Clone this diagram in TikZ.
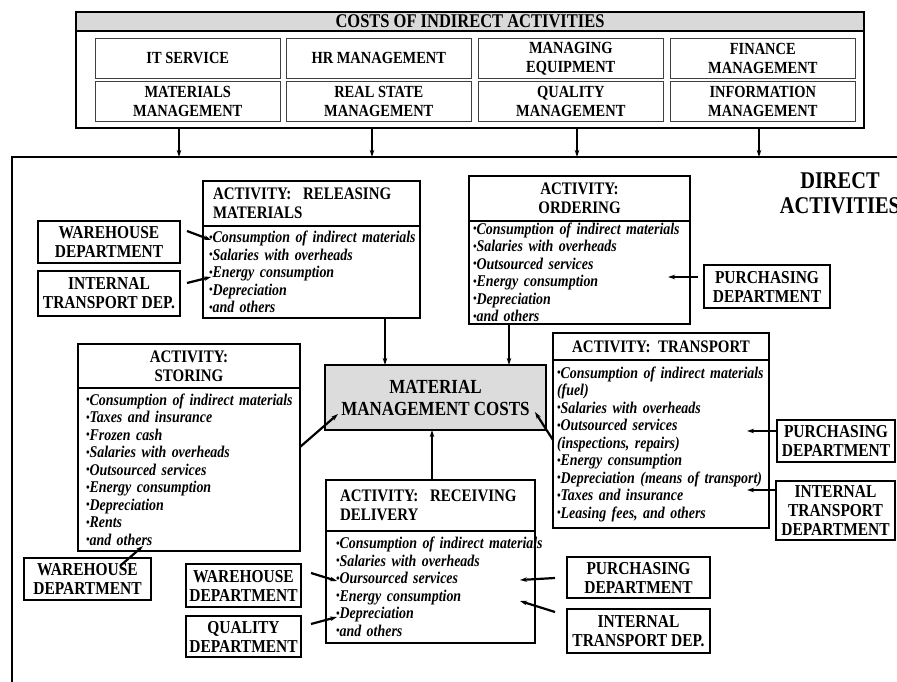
\documentclass[tikz,border=0pt]{standalone}
\usepackage{fontspec}
\setmainfont{Liberation Serif}[FakeStretch=0.85]
\usetikzlibrary{arrows.meta}
\usetikzlibrary{positioning}

\definecolor{hdgray}{RGB}{217,217,217}
\definecolor{mmcgray}{RGB}{220,220,220}
\newcommand\bul{\raisebox{.2ex}{\fontsize{12}{12}\selectfont\textbullet}}
\newcommand\cst[1]{\mbox{\bul#1}}

\begin{document}
\begin{tikzpicture}
[x=1pt,y=-1pt,>={Stealth[length=7pt,width=4.5pt]},%
  frm/.style={draw,line width=2pt,inner sep=0pt,outer sep=0pt,anchor=north west},
  ttl/.style={frm,font=\bfseries\fontsize{17.6}{19}\selectfont,align=center},
  lst/.style={frm,font=\bfseries\itshape\fontsize{16.4}{17.5}\selectfont,align=left},
  dept/.style={frm,font=\bfseries\fontsize{18.2}{19}\selectfont,align=center},
  cell/.style={draw=black!75,line width=.6pt,inner sep=0pt,anchor=north west,
    minimum width=185pt,minimum height=40pt,
    font=\bfseries\fontsize{17}{19}\selectfont,align=center},
  arr/.style={->,line width=2.2pt}]
\useasboundingbox (0,0) rectangle (897,682);
%% costs of indirect activities
\node[ttl,fill=hdgray,minimum width=788pt,minimum height=19pt,
  font=\bfseries\fontsize{19.4}{19}\selectfont] (indh) at (76,12) {COSTS OF INDIRECT ACTIVITIES};
\node[frm,minimum width=788pt,minimum height=97pt,below=0pt of indh] (indb) {};
\node[cell] (it) at (95,38) {IT SERVICE};
\node[cell] (hr) at (286,38) {HR MANAGEMENT};
\node[cell] (eq) at (478,38) {MANAGING\\EQUIPMENT};
\node[cell] (fin) at (670,38) {FINANCE\\MANAGEMENT};
\node[cell] (mat) at (95,81) {MATERIALS\\MANAGEMENT};
\node[cell] (rs) at (286,81) {REAL STATE\\MANAGEMENT};
\node[cell] (qm) at (478,81) {QUALITY\\MANAGEMENT};
\node[cell] (inf) at (670,81) {INFORMATION\\MANAGEMENT};
%% frame of direct activities
\coordinate (ftr) at (897,157);
\coordinate (ftl) at (12,157);
\coordinate (fbl) at (12,682);
\draw[line width=2pt] (ftr) -- (ftl) -- (fbl);
\foreach \x in {179,372,577,759} {
  \coordinate (t\x) at (\x,157);
  \draw[arr] (indb.south -| t\x) -- (t\x);
}
\node[font=\bfseries\fontsize{24}{25}\selectfont,align=center] (dir) at (840,193) {DIRECT\\ACTIVITIES};
%% activities
\node[ttl,minimum width=217pt,minimum height=45pt,text width=197pt,align=left] (relt) at (203,181)
  {ACTIVITY:\ \ RELEASING\\MATERIALS};
\node[lst,minimum width=217pt,minimum height=92pt,text width=205pt,below=0pt of relt] (rell)
  {\cst{Consumption of indirect materials}\\ \cst{Salaries with overheads}\\
   \cst{Energy consumption}\\ \cst{Depreciation}\\ \cst{and others}};
\node[ttl,minimum width=221pt,minimum height=45pt] (ordt) at (469,176) {ACTIVITY:\\ORDERING};
\node[lst,minimum width=221pt,minimum height=103pt,text width=213pt,below=0pt of ordt] (ordl)
  {\cst{Consumption of indirect materials}\\ \cst{Salaries with overheads}\\
   \cst{Outsourced services}\\ \cst{Energy consumption}\\ \cst{Depreciation}\\ \cst{and others}};
\node[ttl,minimum width=222pt,minimum height=44pt] (stot) at (78,344) {ACTIVITY:\\STORING};
\node[lst,minimum width=222pt,minimum height=163pt,text width=206pt,below=0pt of stot] (stol)
  {\cst{Consumption of indirect materials}\\ \cst{Taxes and insurance}\\ \cst{Frozen cash}\\
   \cst{Salaries with overheads}\\ \cst{Outsourced services}\\ \cst{Energy consumption}\\
   \cst{Depreciation}\\ \cst{Rents}\\ \cst{and others}};
\node[ttl,minimum width=216pt,minimum height=27pt] (trat) at (553,333) {ACTIVITY:\ \ TRANSPORT};
\node[lst,minimum width=216pt,minimum height=168pt,text width=208pt,below=0pt of trat] (tral)
  {\cst{Consumption of indirect materials}\\ (fuel)\\ \cst{Salaries with overheads}\\
   \cst{Outsourced services}\\ (inspections, repairs)\\ \cst{Energy consumption}\\
   \cst{Depreciation (means of transport)}\\ \cst{Taxes and insurance}\\ \cst{Leasing fees, and others}};
\node[ttl,minimum width=209pt,minimum height=51pt,text width=181pt,align=left] (rect) at (326,480)
  {ACTIVITY:\ \ RECEIVING\\DELIVERY};
\node[lst,minimum width=209pt,minimum height=112pt,text width=189pt,below=0pt of rect] (recl)
  {\cst{Consumption of indirect materials}\\ \cst{Salaries with overheads}\\
   \cst{Oursourced services}\\ \cst{Energy consumption}\\ \cst{Depreciation}\\ \cst{and others}};
\node[frm,fill=mmcgray,minimum width=221pt,minimum height=65pt,
  font=\bfseries\fontsize{20}{22}\selectfont,align=center] (mmc) at (325,365) {MATERIAL\\MANAGEMENT COSTS};
%% departments
\node[dept,minimum width=142pt,minimum height=42pt] (whrel) at (38,221) {WAREHOUSE\\DEPARTMENT};
\node[dept,minimum width=142pt,minimum height=45pt] (itrel) at (38,271) {INTERNAL\\TRANSPORT DEP.};
\node[dept,minimum width=126pt,minimum height=43pt] (puord) at (704,265) {PURCHASING\\DEPARTMENT};
\node[dept,minimum width=127pt,minimum height=42pt] (whsto) at (24,558) {WAREHOUSE\\DEPARTMENT};
\node[dept,minimum width=115pt,minimum height=43pt] (whrec) at (186,564) {WAREHOUSE\\DEPARTMENT};
\node[dept,minimum width=115pt,minimum height=41pt] (qurec) at (186,616) {QUALITY\\DEPARTMENT};
\node[dept,minimum width=143pt,minimum height=41pt] (purec) at (567,557) {PURCHASING\\DEPARTMENT};
\node[dept,minimum width=143pt,minimum height=44pt] (itrec) at (567,609) {INTERNAL\\TRANSPORT DEP.};
\node[dept,minimum width=118pt,minimum height=42pt] (putra) at (777,420) {PURCHASING\\DEPARTMENT};
\node[dept,minimum width=119pt,minimum height=59pt] (ittra) at (776,481) {INTERNAL\\TRANSPORT\\DEPARTMENT};
%% connectors
\coordinate (a1) at ([shift={(73.5,0)}]rell.south);
\coordinate (a2) at ([shift={(-70.5,0)}]ordl.south);
\coordinate (a3) at ([shift={(1.5,0)}]rect.north);
\path[arr]
(a1) edge (a1 |- mmc.north)
(a2) edge (a2 |- mmc.north)
(a3) edge (a3 |- mmc.south)
([shift={(0,59)}]stol.north east) edge ([shift={(13,-16)}]mmc.south west)
([shift={(0,80)}]tral.north west) edge ([shift={(-11,-18)}]mmc.south east)
([shift={(7,-11)}]whrel.east) edge ([shift={(8,14)}]rell.north west)
([shift={(7,-10.5)}]itrel.east) edge ([shift={(8,51)}]rell.north west)
([shift={(-6,-9.5)}]puord.west) edge ([shift={(-22,56)}]ordl.north east)
([shift={(0,-10)}]putra.west) edge ([shift={(-22,71)}]tral.north east)
([shift={(0,-20.5)}]ittra.west) edge ([shift={(-22,130)}]tral.north east)
([shift={(32.5,8)}]whsto.north) edge ([shift={(65,-5)}]stol.south west)
([shift={(10,-12.5)}]whrec.east) edge ([shift={(11,50)}]recl.north west)
([shift={(10,-12.5)}]qurec.east) edge ([shift={(11,86)}]recl.north west)
([shift={(-12,0.5)}]purec.west) edge ([shift={(-15,49)}]recl.north east)
([shift={(-12,-19)}]itrec.west) edge ([shift={(-15,70)}]recl.north east);
\end{tikzpicture}
\end{document}
